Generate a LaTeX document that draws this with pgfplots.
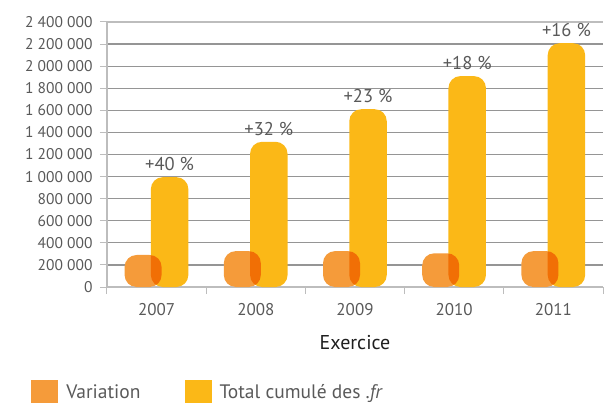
\documentclass[border=0pt]{standalone}
\usepackage{fontspec}
\setmainfont{PT Sans}
\usepackage{pgfplots}
\pgfplotsset{compat=1.18}
\definecolor{varc}{HTML}{F59B3A}
\definecolor{totc}{HTML}{FBB817}
\definecolor{txt}{HTML}{595959}
\definecolor{gridc}{HTML}{959595}
\definecolor{axc}{HTML}{BDBDBD}
\newcommand{\ts}{\ }
\begin{document}
\begin{tikzpicture}
\begin{axis}[
  set layers=standard,
  scale only axis, width=496pt, height=265pt,
  xmin=-0.5, xmax=4.5, ymin=0, ymax=2400000,
  axis lines*=left,
  axis line style={draw=axc, line width=1.2pt},
  xtick={0,1,2,3,4},
  xticklabels={2007,2008,2009,2010,2011},
  minor xtick={-0.5,0.5,1.5,2.5,3.5,4.5},
  tick align=outside,
  major tick length=7pt, minor tick length=7pt,
  xtick style={draw=none},
  minor x tick style={draw=axc, line width=1pt},
  ytick={0,200000,400000,600000,800000,1000000,1200000,1400000,1600000,1800000,2000000,2200000},
  yticklabels={0,200\ts000,400\ts000,600\ts000,800\ts000,1\ts000\ts000,1\ts200\ts000,1\ts400\ts000,1\ts600\ts000,1\ts800\ts000,2\ts000\ts000,2\ts200\ts000},
  extra y ticks={2400000},
  extra y tick labels={2\ts400\ts000},
  extra y tick style={grid style={draw=axc, line width=1.2pt}},
  ytick style={draw=axc, line width=1pt},
  ymajorgrids,
  grid style={draw=gridc, line width=1.2pt},
  scaled y ticks=false,
  y tick label style={xshift=-4pt, font=\fontsize{15.5}{18}\selectfont},
  tick label style={text=txt},
  x tick label style={yshift=-6pt, font=\fontsize{17}{19}\selectfont},
  xlabel={Exercice},
  xlabel style={at={(rel axis cs:0.5,-0.211)}, anchor=center, font=\fontsize{20}{22}\selectfont, text=black!88},
  legend style={at={(rel axis cs:-0.153,-0.396)}, anchor=west, draw=none, fill=none, inner sep=0pt,
     font=\fontsize{19.5}{22}\selectfont, text=txt, legend columns=2,
     /tikz/every odd column/.append style={column sep=6pt},
     /tikz/every even column/.append style={column sep=42pt}},
  legend image code/.code={\fill[#1] (0pt,-11.5pt) rectangle (27pt,11.5pt);},
]
\addlegendimage{fill=varc, draw=none}
\addlegendimage{fill=totc, draw=none}
% white base under the variation bars hides the grid lines
\addplot[ybar, forget plot, on layer=axis foreground, bar width=37pt, bar shift=-13.5pt, fill=white, draw=none, rounded corners=12pt]
  coordinates {(0,290000) (1,325000) (2,325000) (3,305000) (4,325000)};
\addplot[ybar, forget plot, on layer=axis foreground, bar width=37.5pt, bar shift=13pt, fill=totc, draw=none, rounded corners=12pt,
  nodes near coords, point meta=explicit symbolic,
  every node near coord/.append style={font=\fontsize{18.5}{20}\selectfont, text=txt, xshift=13pt, yshift=3pt, rounded corners=0pt}]
  coordinates {(0,995000) [{+40 \%}] (1,1315000) [{+32 \%}] (2,1610000) [{+23 \%}] (3,1910000) [{+18 \%}] (4,2208000) [{+16 \%}]};
\addplot[ybar, forget plot, on layer=axis foreground, bar width=37pt, bar shift=-13.5pt, fill=varc, draw=none, rounded corners=12pt, blend mode=multiply]
  coordinates {(0,290000) (1,325000) (2,325000) (3,305000) (4,325000)};
\legend{Variation, Total cumulé des \textit{.fr}}
\coordinate (bl) at (rel axis cs:-0.2157,-0.4377);
\coordinate (tr) at (rel axis cs:1.006,1.083);
\end{axis}
\pgfresetboundingbox
\useasboundingbox (bl) rectangle (tr);
\end{tikzpicture}
\end{document}
